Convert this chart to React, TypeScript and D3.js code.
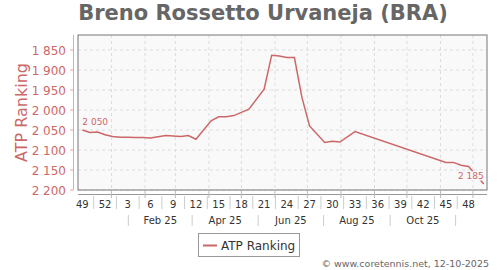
import React from "react";
import * as d3 from "d3";

const title = "Breno Rossetto Urvaneja (BRA)";
const yAxisTitle = "ATP Ranking";
const seriesName = "ATP Ranking";
const credit = "© www.coretennis.net, 12-10-2025";

// Ranking dates (Mondays) and values
const rankDates = [
  "2024-12-02", "2024-12-09", "2024-12-16", "2024-12-23", "2024-12-30",
  "2025-01-06", "2025-01-13", "2025-01-20", "2025-01-27", "2025-02-03",
  "2025-02-10", "2025-02-17", "2025-02-24", "2025-03-03", "2025-03-10",
  "2025-03-17", "2025-03-31", "2025-04-07", "2025-04-14", "2025-04-21",
  "2025-04-28", "2025-05-05", "2025-05-19", "2025-05-26", "2025-06-02",
  "2025-06-09", "2025-06-16", "2025-06-23", "2025-06-30", "2025-07-14",
  "2025-07-21", "2025-07-28", "2025-08-11", "2025-11-03", "2025-11-10",
  "2025-11-17", "2025-11-24", "2025-12-08",
];
const rankValues = [
  2050, 2056, 2055, 2062, 2066,
  2068, 2068, 2069, 2069, 2070,
  2067, 2064, 2065, 2066, 2064,
  2073, 2027, 2017, 2017, 2014,
  2006, 1998, 1948, 1863, 1865,
  1869, 1869, 1969, 2040, 2081,
  2078, 2080, 2054, 2131, 2131,
  2138, 2141, 2185,
];

const yTicks = [1850, 1900, 1950, 2000, 2050, 2100, 2150, 2200];

const weekLabels = ["49", "52", "3", "6", "9", "12", "15", "18", "21", "24", "27", "30", "33", "36", "39", "42", "45", "48"];
const weekLabelDates = [
  "2024-12-05", "2024-12-26", "2025-01-16", "2025-02-06", "2025-02-27", "2025-03-20",
  "2025-04-10", "2025-05-01", "2025-05-22", "2025-06-12", "2025-07-03", "2025-07-24",
  "2025-08-14", "2025-09-04", "2025-09-25", "2025-10-16", "2025-11-06", "2025-11-27",
];
const monthLabels = ["Feb 25", "Apr 25", "Jun 25", "Aug 25", "Oct 25"];
const monthSeparatorDates = [
  "2025-01-16T12:00", "2025-03-16T12:00", "2025-05-16T12:00",
  "2025-07-16T00:00", "2025-09-15T12:00", "2025-11-15T00:00",
];
const gridMonthDates = [
  "2025-01-01", "2025-02-01", "2025-03-01", "2025-04-01", "2025-05-01", "2025-06-01",
  "2025-07-01", "2025-08-01", "2025-09-01", "2025-10-01", "2025-11-01", "2025-12-01",
];

const parse = (s: string) => new Date(s.length > 10 ? s + ":00Z" : s + "T00:00:00Z");
const DAY = 86400000;

const RED = "#cd6767";
const FONT = "DejaVu Sans, Verdana, sans-serif";

export default function App() {
  const W = 500, H = 270;
  const left = 78, right = 487, top = 35, bottom = 190;
  const x = d3.scaleUtc().domain([parse("2024-12-01"), parse("2025-12-14")]).range([left, right]);
  const y = d3.scaleLinear().domain([1812.5, 2200]).range([top, bottom]);
  const fmt = d3.formatLocale({ decimal: ".", thousands: " ", grouping: [3], currency: ["", ""] }).format(",");

  const pts: [Date, number][] = rankDates.map((d, i) => [new Date(parse(d).getTime() + 3 * DAY), rankValues[i]]);
  const line = d3.line<[Date, number]>().x((d) => x(d[0])).y((d) => y(d[1]));

  const wl = weekLabelDates.map(parse);
  const seps = monthSeparatorDates.map(parse);
  const first = pts[0];
  const last = pts[pts.length - 1];

  return (
    <svg width={W} height={H} style={{ position: "absolute", left: 0, top: 0, fontFamily: FONT }}>
      <rect width={W} height={H} fill="#fff" />
      <text x={263} y={20} textAnchor="middle" fontSize={21} fontWeight="bold" fill="#666">{title}</text>

      {/* plot background */}
      <rect x={left} y={top} width={right - left} height={bottom - top} fill="#f9f9f9" />
      {/* grid */}
      {yTicks.map((t) => (
        <line key={"hg" + t} x1={left} x2={right} y1={y(t)} y2={y(t)} stroke="#dcdcdc" strokeDasharray="3,3" />
      ))}
      {gridMonthDates.map((d) => (
        <line key={"vg" + d} x1={x(parse(d))} x2={x(parse(d))} y1={top} y2={bottom} stroke="#dcdcdc" strokeDasharray="3,3" />
      ))}

      {/* series */}
      <path d={line(pts) || ""} fill="none" stroke={RED} strokeWidth={1.5} />
      <text x={x(first[0])} y={y(first[1]) - 5} fontSize={9} fill={RED} stroke="#f9f9f9" strokeWidth={3} paintOrder="stroke" strokeLinejoin="round">{fmt(first[1])}</text>
      <text x={x(last[0])} y={y(last[1]) - 5} textAnchor="end" fontSize={9} fill={RED} stroke="#f9f9f9" strokeWidth={3} paintOrder="stroke" strokeLinejoin="round">{fmt(last[1])}</text>

      {/* frame */}
      <rect x={left} y={top} width={right - left} height={bottom - top} fill="none" stroke="#777" strokeWidth={1} />

      {/* y axis */}
      <line x1={73.5} x2={73.5} y1={top} y2={bottom} stroke="#e2aaaa" />
      {yTicks.map((t) => (
        <g key={"yt" + t}>
          <line x1={70} x2={73.5} y1={y(t)} y2={y(t)} stroke="#e2aaaa" />
          <text x={66} y={y(t) + 4.5} textAnchor="end" fontSize={12} fill={RED}>{fmt(t)}</text>
        </g>
      ))}
      <text transform={`translate(26.5,${(top + bottom) / 2}) rotate(-90)`} textAnchor="middle" fontSize={16} fill={RED}>{yAxisTitle}</text>

      {/* x axis */}
      <line x1={left} x2={right} y1={194.5} y2={194.5} stroke="#999" />
      {gridMonthDates.map((d) => (
        <line key={"mt" + d} x1={x(parse(d))} x2={x(parse(d))} y1={191} y2={198} stroke="#bbb" />
      ))}
      {weekLabels.map((l, i) => (
        <text key={"wl" + i} x={x(wl[i])} y={207.5} textAnchor="middle" fontSize={10} fill="#333">{l}</text>
      ))}
      {wl.slice(0, -1).map((d, i) => {
        const xm = (x(d) + x(wl[i + 1])) / 2;
        return <line key={"ws" + i} x1={xm} x2={xm} y1={196} y2={209} stroke="#ccc" />;
      })}
      {seps.map((d, i) => (
        <line key={"ms" + i} x1={x(d)} x2={x(d)} y1={215} y2={226} stroke="#ccc" />
      ))}
      {monthLabels.map((l, i) => (
        <text key={"ml" + i} x={(x(seps[i]) + x(seps[i + 1])) / 2} y={223.5} textAnchor="middle" fontSize={10} fill="#333">{l}</text>
      ))}

      {/* legend */}
      <rect x={198.5} y={233.5} width={101} height={23} fill="#fff" stroke="#999" />
      <line x1={203} x2={217} y1={245.5} y2={245.5} stroke={RED} strokeWidth={2} />
      <text x={221} y={250} fontSize={12} fill="#333">{seriesName}</text>

      <text x={489} y={267} textAnchor="end" fontSize={9.5} fill="#666">{credit}</text>
    </svg>
  );
}
